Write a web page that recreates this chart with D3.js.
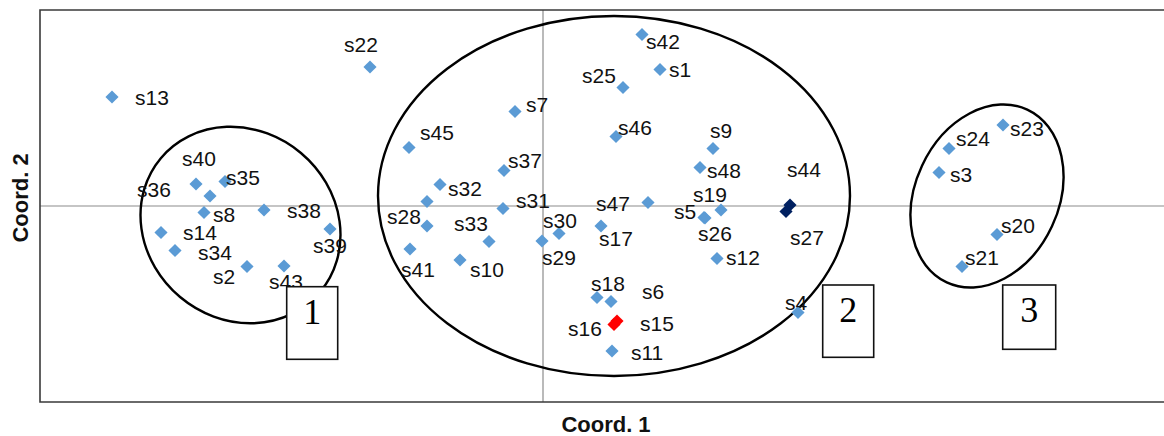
<!DOCTYPE html>
<html>
<head>
<meta charset="utf-8">
<script src="https://cdn.jsdelivr.net/npm/d3@7"></script>
<style>
  html, body { margin: 0; padding: 0; background: #fff; }
  svg { display: block; }
</style>
</head>
<body>
<svg id="chart" width="1164" height="436"></svg>
<script>
// ---- data ----
const sampleNames = ["s1","s2","s3","s4","s5","s6","s7","s8","s9","s10","s11","s12","s13","s14","s15","s16","s17","s18","s19","s20","s21","s22","s23","s24","s25","s26","s27","s28","s29","s30","s31","s32","s33","s34","s35","s36","s37","s38","s39","s40","s41","s42","s43","s44","s45","s46","s47","s48",""];
const coord1 = [0.117,-0.296,0.396,0.255,0.161,0.068,-0.028,-0.339,0.170,-0.083,0.069,0.174,-0.431,-0.382,0.074,0.071,0.058,0.054,0.178,0.454,0.419,-0.173,0.460,0.406,0.080,0.162,0.243,-0.116,-0.001,0.016,-0.040,-0.103,-0.116,-0.368,-0.318,-0.333,-0.039,-0.279,-0.213,-0.347,-0.133,0.099,-0.259,0.247,-0.134,0.073,0.105,0.157,-0.054];
const coord2 = [0.273,-0.121,0.067,-0.213,-0.023,-0.191,0.189,-0.013,0.115,-0.108,-0.290,-0.105,0.218,-0.053,-0.230,-0.237,-0.040,-0.183,-0.008,-0.057,-0.121,0.278,0.162,0.115,0.237,-0.024,-0.011,0.009,-0.070,-0.055,-0.005,0.043,-0.040,-0.089,0.049,0.020,0.071,-0.008,-0.046,0.044,-0.086,0.343,-0.120,0.002,0.117,0.139,0.007,0.077,-0.071];
// marker group: 0 = regular, 1 = highlighted red, 2 = highlighted navy
const markerGroup = sampleNames.map(n => (n === "s15" || n === "s16") ? 1 : (n === "s44" || n === "s27") ? 2 : 0);
// hand placed label offsets (pixels, relative to marker; x = text start, y = baseline)
const labelOffset = {
  s1:[9,7], s2:[-34,17], s3:[11,9], s4:[-13,-3], s5:[-30,1], s6:[31,-3], s7:[11,0], s8:[9,9], s9:[-3,-11],
  s10:[10,17], s11:[19,9], s12:[9,6], s13:[23,8], s14:[22,7], s15:[23,9.5], s16:[-46,11], s17:[-2,19.5],
  s18:[-6,-7], s19:[-28,-8.5], s20:[4,-2], s21:[3,-2], s22:[-26,-15], s23:[7,10.5], s24:[7,-3], s25:[-41,-5],
  s26:[-7,22.5], s27:[4,33], s28:[-40,22], s29:[0,24], s30:[-16,-6], s31:[13,-1], s32:[8,11], s33:[27,4.5],
  s34:[23,9], s35:[1,3.5], s36:[-73,1], s37:[4,-3], s38:[23,8], s39:[-17,24], s40:[-14,-18], s41:[-9,27.5],
  s42:[4,14], s43:[-15,23], s44:[-3,-28.5], s45:[11,-8], s46:[2,-2], s47:[-52,8], s48:[7,10]
};
// cluster ellipses: centre in data units, radii in pixels
const clusterNames = ["1","2","3"];
const clusterCx = [-0.3025, 0.071, 0.444];
const clusterCy = [-0.038, 0.020, 0.020];
const clusterRx = [104, 236, 71.7];
const clusterRy = [94, 180, 95.3];
const clusterRot = [40, 0, 25];
// cluster number boxes (data-unit anchor of box left/top)
const boxX = [-0.2563, 0.2797, 0.4597];
const boxY = [-0.1614, -0.158, -0.158];
const boxW = [51, 51, 53];
const boxH = [72.6, 72.3, 64.3];

// ---- layout ----
const svg = d3.select("#chart");
const pLeft = 40, pTop = 10, pBottom = 402, pRight = 1164;
const x = d3.scaleLinear().domain([-0.503, 0.621]).range([pLeft, pRight]);
const y = d3.scaleLinear().domain([-0.392, 0.392]).range([pBottom, pTop]);

// zero lines
svg.append("line").attr("x1", pLeft).attr("x2", pRight).attr("y1", y(0)).attr("y2", y(0))
  .attr("stroke", "#8c8c8c").attr("stroke-width", 1.2);
svg.append("line").attr("x1", x(0)).attr("x2", x(0)).attr("y1", pTop).attr("y2", pBottom)
  .attr("stroke", "#8c8c8c").attr("stroke-width", 1.2);

// frame (left, top, bottom)
svg.append("path")
  .attr("d", `M${pRight},${pTop}H${pLeft}V${pBottom}H${pRight}`)
  .attr("fill", "none").attr("stroke", "#3a3a3a").attr("stroke-width", 1.6);

// ellipses
const eg = svg.append("g");
clusterNames.forEach((c, i) => {
  eg.append("ellipse")
    .attr("cx", 0).attr("cy", 0)
    .attr("rx", clusterRx[i]).attr("ry", clusterRy[i])
    .attr("transform", `translate(${x(clusterCx[i])},${y(clusterCy[i])}) rotate(${clusterRot[i]})`)
    .attr("fill", "none").attr("stroke", "#000").attr("stroke-width", 2.4);
});

// points
const pts = sampleNames.map((n, i) => ({ name: n, cx: coord1[i], cy: coord2[i], g: markerGroup[i] }));
const colors = ["#5b9bd5", "#ff0000", "#002060"];
const sym = d3.symbol().type(d3.symbolSquare).size(86);
svg.append("g").selectAll("path")
  .data(pts.slice().sort((a, b) => a.g - b.g))
  .join("path")
  .attr("d", sym)
  .attr("transform", d => `translate(${x(d.cx)},${y(d.cy)}) rotate(45)`)
  .attr("fill", d => colors[d.g]);

// labels
svg.append("g").selectAll("text")
  .data(pts.filter(d => d.name))
  .join("text")
  .attr("x", d => x(d.cx) + labelOffset[d.name][0])
  .attr("y", d => y(d.cy) + labelOffset[d.name][1])
  .attr("font-family", "Liberation Sans, Arial, sans-serif")
  .attr("font-size", 21)
  .attr("fill", "#111")
  .text(d => d.name);

// cluster boxes
clusterNames.forEach((c, i) => {
  const bx = x(boxX[i]), by = y(boxY[i]);
  svg.append("rect").attr("x", bx).attr("y", by).attr("width", boxW[i]).attr("height", boxH[i])
    .attr("fill", "#fff").attr("stroke", "#111").attr("stroke-width", 1.6);
  svg.append("text").attr("x", bx + boxW[i] / 2).attr("y", by + 37)
    .attr("text-anchor", "middle")
    .attr("font-family", "Liberation Serif, Times New Roman, serif")
    .attr("font-size", 36).attr("fill", "#000").text(c);
});

// axis titles
svg.append("text").attr("x", 606).attr("y", 432)
  .attr("text-anchor", "middle")
  .attr("font-family", "Liberation Sans, Arial, sans-serif")
  .attr("font-weight", "bold").attr("font-size", 22).attr("fill", "#111")
  .text("Coord. 1");
svg.append("text")
  .attr("transform", `translate(28,198) rotate(-90)`)
  .attr("text-anchor", "middle")
  .attr("font-family", "Liberation Sans, Arial, sans-serif")
  .attr("font-weight", "bold").attr("font-size", 22).attr("fill", "#111")
  .text("Coord. 2");
</script>
</body>
</html>
